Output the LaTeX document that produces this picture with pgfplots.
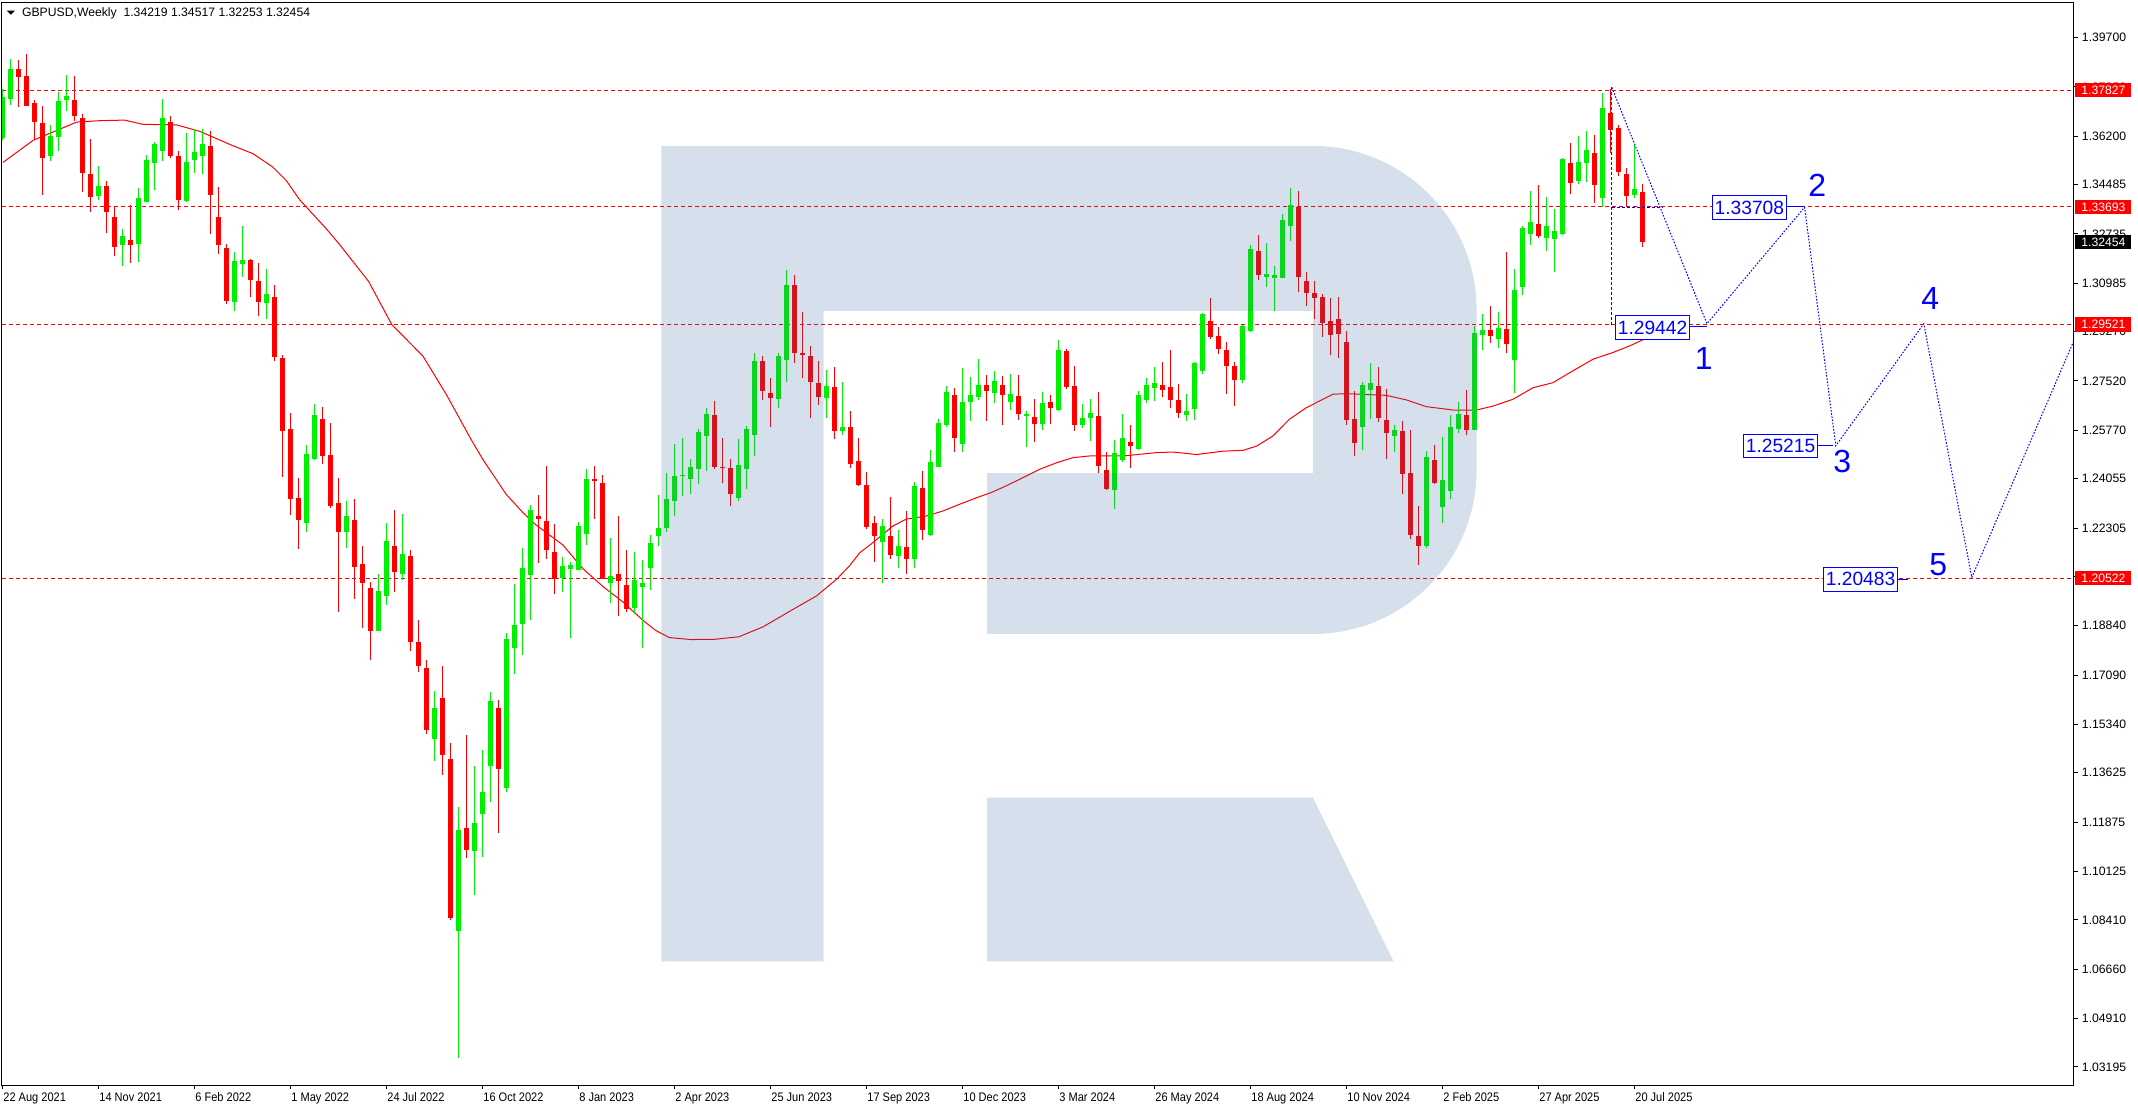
\documentclass[border=0pt]{standalone}
\usepackage{pgfplots}
\pgfplotsset{compat=1.18}
\usepackage{pgfplotstable}
\usepackage{fontspec}
\setmainfont{Liberation Sans}
\newfontfamily\datefamily[FakeStretch=0.89]{Liberation Sans}
\newcommand\pricefont{\fontsize{6.1}{7}\selectfont}
\newcommand\datefont{\datefamily\fontsize{6.2}{7}\selectfont}
\definecolor{bull}{RGB}{0,240,0}
\definecolor{bear}{RGB}{255,0,0}
\definecolor{wm}{RGB}{50,100,160}
\definecolor{wblue}{RGB}{0,0,255}

\pgfplotstableread{
w o h l c
0 1.3615 1.3786 1.3606 1.3758
1 1.3752 1.3893 1.3729 1.3857
6 1.3549 1.3658 1.3532 1.3619
7 1.3618 1.3776 1.3567 1.3743
8 1.3748 1.3836 1.3710 1.3761
12 1.3408 1.3513 1.3394 1.3443
15 1.3233 1.3290 1.3159 1.3265
17 1.3237 1.3438 1.3175 1.3400
18 1.3387 1.3552 1.3387 1.3534
19 1.3524 1.3599 1.3429 1.3593
20 1.3569 1.3751 1.3532 1.3684
23 1.3389 1.3630 1.3386 1.3528
24 1.3534 1.3644 1.3489 1.3563
25 1.3549 1.3644 1.3485 1.3594
29 1.3033 1.3211 1.3000 1.3176
30 1.3167 1.3300 1.3121 1.3180
33 1.3029 1.3148 1.2973 1.3059
38 1.2248 1.2526 1.2216 1.2492
39 1.2475 1.2669 1.2472 1.2630
43 1.2215 1.2326 1.2161 1.2272
47 1.1864 1.2067 1.1864 1.2008
48 1.1991 1.2248 1.1958 1.2184
50 1.2069 1.2280 1.2047 1.2138
54 1.1483 1.1654 1.1406 1.1591
57 1.0800 1.1240 1.0351 1.1159
59 1.1086 1.1386 1.0928 1.1184
60 1.1217 1.1445 1.1064 1.1296
61 1.1386 1.1650 1.1259 1.1618
63 1.1309 1.1858 1.1295 1.1838
64 1.1805 1.2033 1.1712 1.1887
65 1.1891 1.2158 1.1779 1.2089
66 1.2064 1.2311 1.1903 1.2294
70 1.2054 1.2126 1.2002 1.2096
71 1.2086 1.2110 1.1842 1.2100
72 1.2080 1.2252 1.2080 1.2238
73 1.2210 1.2440 1.2170 1.2404
76 1.2034 1.2196 1.1963 1.2060
79 1.1946 1.2145 1.1924 1.2047
80 1.2023 1.2118 1.1806 1.2036
81 1.2088 1.2204 1.2011 1.2177
82 1.2203 1.2347 1.2167 1.2230
83 1.2229 1.2425 1.2217 1.2333
84 1.2325 1.2528 1.2273 1.2414
85 1.2414 1.2549 1.2344 1.2418
86 1.2405 1.2474 1.2350 1.2446
87 1.2440 1.2583 1.2386 1.2570
88 1.2557 1.2655 1.2433 1.2634
92 1.2337 1.2545 1.2327 1.2453
93 1.2440 1.2593 1.2368 1.2581
94 1.2561 1.2850 1.2486 1.2822
97 1.2688 1.2850 1.2656 1.2840
98 1.2827 1.3144 1.2749 1.3091
103 1.2692 1.2790 1.2619 1.2733
105 1.2575 1.2747 1.2561 1.2588
110 1.2181 1.2262 1.2037 1.2237
112 1.2132 1.2223 1.2089 1.2166
114 1.2121 1.2393 1.2089 1.2379
116 1.2206 1.2506 1.2202 1.2464
117 1.2447 1.2616 1.2447 1.2602
118 1.2596 1.2733 1.2589 1.2712
120 1.2529 1.2797 1.2500 1.2676
121 1.2678 1.2765 1.2610 1.2701
122 1.2695 1.2829 1.2685 1.2737
124 1.2710 1.2786 1.2674 1.2751
126 1.2678 1.2776 1.2649 1.2705
128 1.2626 1.2645 1.2518 1.2634
130 1.2598 1.2712 1.2578 1.2673
132 1.2649 1.2896 1.2646 1.2861
135 1.2596 1.2669 1.2585 1.2620
136 1.2621 1.2687 1.2539 1.2637
139 1.2366 1.2542 1.2298 1.2496
140 1.2472 1.2634 1.2466 1.2549
142 1.2511 1.2715 1.2507 1.2701
143 1.2685 1.2761 1.2673 1.2737
144 1.2726 1.2800 1.2680 1.2744
148 1.2631 1.2705 1.2610 1.2644
149 1.2653 1.2818 1.2614 1.2815
150 1.2787 1.2992 1.2777 1.2988
155 1.2756 1.2949 1.2745 1.2946
156 1.2929 1.3233 1.2926 1.3219
158 1.3121 1.3240 1.3085 1.3130
159 1.3117 1.3159 1.3000 1.3127
160 1.3117 1.3343 1.3117 1.3322
161 1.3302 1.3435 1.3248 1.3375
170 1.2589 1.2750 1.2507 1.2737
171 1.2720 1.2815 1.2617 1.2744
174 1.2557 1.2595 1.2500 1.2577
178 1.2167 1.2504 1.2160 1.2484
180 1.2305 1.2552 1.2248 1.2400
181 1.2362 1.2631 1.2334 1.2588
182 1.2581 1.2679 1.2566 1.2634
184 1.2578 1.2946 1.2578 1.2923
185 1.2915 1.2988 1.2861 1.2932
187 1.2901 1.2996 1.2868 1.2939
189 1.2826 1.3148 1.2709 1.3073
190 1.3085 1.3300 1.3057 1.3293
191 1.3273 1.3425 1.3233 1.3315
193 1.3259 1.3404 1.3213 1.3300
194 1.3256 1.3361 1.3139 1.3283
195 1.3272 1.3542 1.3269 1.3538
197 1.3460 1.3620 1.3451 1.3527
198 1.3524 1.3637 1.3456 1.3570
200 1.3401 1.3772 1.3370 1.3719
204 1.3412 1.3590 1.3401 1.3432
}\bulltab

\pgfplotstableread{
w o h l c
2 1.3857 1.3890 1.3725 1.3831
3 1.3832 1.3913 1.3727 1.3727
4 1.3736 1.3748 1.3605 1.3671
5 1.3666 1.3728 1.3411 1.3543
9 1.3747 1.3832 1.3675 1.3691
10 1.3684 1.3700 1.3423 1.3489
11 1.3485 1.3609 1.3352 1.3405
13 1.3443 1.3460 1.3276 1.3352
14 1.3335 1.3371 1.3195 1.3228
16 1.3251 1.3375 1.3171 1.3233
21 1.3672 1.3690 1.3542 1.3548
22 1.3548 1.3566 1.3358 1.3394
26 1.3586 1.3639 1.3273 1.3411
27 1.3333 1.3439 1.3202 1.3233
28 1.3223 1.3239 1.3025 1.3035
31 1.3180 1.3185 1.3050 1.3110
32 1.3105 1.3170 1.2981 1.3033
34 1.3049 1.3091 1.2822 1.2838
35 1.2833 1.2843 1.2412 1.2574
36 1.2581 1.2640 1.2275 1.2334
37 1.2336 1.2407 1.2156 1.2259
40 1.2616 1.2661 1.2459 1.2486
41 1.2488 1.2602 1.2302 1.2308
42 1.2319 1.2407 1.1933 1.2216
44 1.2259 1.2333 1.1978 1.2093
45 1.2103 1.2167 1.1877 1.2034
46 1.2018 1.2040 1.1761 1.1864
49 1.2167 1.2294 1.2004 1.2073
51 1.2131 1.2154 1.1793 1.1825
52 1.1828 1.1906 1.1719 1.1740
53 1.1735 1.1763 1.1500 1.1514
55 1.1626 1.1742 1.1354 1.1425
56 1.1413 1.1467 1.0841 1.0847
58 1.1166 1.1498 1.1061 1.1090
62 1.1594 1.1620 1.1149 1.1376
67 1.2272 1.2347 1.2108 1.2261
68 1.2255 1.2450 1.2121 1.2154
69 1.2145 1.2245 1.1995 1.2051
74 1.2404 1.2450 1.2264 1.2398
75 1.2389 1.2418 1.2050 1.2050
77 1.2067 1.2272 1.1917 1.2044
78 1.2028 1.2151 1.1932 1.1943
89 1.2630 1.2680 1.2441 1.2446
90 1.2448 1.2549 1.2389 1.2442
91 1.2442 1.2474 1.2309 1.2350
95 1.2822 1.2840 1.2684 1.2715
96 1.2708 1.2762 1.2589 1.2691
99 1.3091 1.3127 1.2816 1.2851
100 1.2850 1.2996 1.2763 1.2844
101 1.2840 1.2875 1.2621 1.2749
102 1.2744 1.2822 1.2667 1.2695
104 1.2730 1.2801 1.2545 1.2575
106 1.2588 1.2645 1.2444 1.2458
107 1.2467 1.2549 1.2380 1.2382
108 1.2382 1.2428 1.2227 1.2234
109 1.2247 1.2272 1.2110 1.2202
111 1.2201 1.2340 1.2121 1.2135
113 1.2162 1.2290 1.2068 1.2121
115 1.2372 1.2432 1.2188 1.2224
119 1.2701 1.2726 1.2500 1.2550
123 1.2737 1.2772 1.2610 1.2715
125 1.2737 1.2769 1.2595 1.2702
127 1.2698 1.2772 1.2614 1.2635
129 1.2623 1.2687 1.2536 1.2600
131 1.2676 1.2701 1.2600 1.2656
133 1.2857 1.2864 1.2723 1.2730
134 1.2733 1.2804 1.2575 1.2596
137 1.2627 1.2712 1.2426 1.2451
138 1.2435 1.2499 1.2366 1.2369
141 1.2535 1.2595 1.2444 1.2520
145 1.2737 1.2818 1.2694 1.2720
146 1.2730 1.2861 1.2655 1.2685
147 1.2683 1.2740 1.2621 1.2639
151 1.2964 1.3045 1.2901 1.2908
152 1.2910 1.2942 1.2848 1.2866
153 1.2861 1.2889 1.2705 1.2805
154 1.2804 1.2818 1.2663 1.2756
157 1.3212 1.3269 1.3110 1.3128
162 1.3369 1.3425 1.3068 1.3121
163 1.3105 1.3137 1.3018 1.3064
164 1.3063 1.3105 1.2972 1.3046
165 1.3049 1.3059 1.2908 1.2958
166 1.2964 1.3046 1.2844 1.2915
167 1.2971 1.3049 1.2835 1.2918
168 1.2889 1.2928 1.2597 1.2614
169 1.2616 1.2715 1.2486 1.2532
172 1.2733 1.2801 1.2607 1.2621
173 1.2613 1.2722 1.2475 1.2568
175 1.2574 1.2610 1.2351 1.2422
176 1.2425 1.2577 1.2192 1.2206
177 1.2201 1.2308 1.2100 1.2167
179 1.2471 1.2524 1.2386 1.2390
183 1.2630 1.2719 1.2560 1.2578
186 1.2932 1.3017 1.2886 1.2912
188 1.2935 1.3208 1.2851 1.2882
192 1.3308 1.3446 1.3258 1.3266
196 1.3524 1.3595 1.3414 1.3455
199 1.3559 1.3623 1.3383 1.3447
201 1.3701 1.3788 1.3562 1.3642
202 1.3648 1.3659 1.3479 1.3493
203 1.3485 1.3506 1.3370 1.3408
205 1.34219 1.34517 1.32253 1.32454
}\beartab

\begin{document}
\begin{tikzpicture}
\path[use as bounding box] (-1pt,-12.5pt) rectangle (1068pt,542.5pt);
\begin{axis}[
  at={(0,0)}, anchor=south west,
  width=1036pt, height=541pt, scale only axis,
  xmin=-0.125, xmax=258.875, ymin=1.02554, ymax=1.40923,
  axis line style={line width=0.5pt, black},
  tick align=outside, xtick pos=bottom, ytick pos=right, yticklabel pos=right,
  major tick length=2pt,
  tick style={line width=0.5pt, black},
  xtick={0,12,...,204},
  xticklabels={22 Aug 2021,14 Nov 2021,6 Feb 2022,1 May 2022,24 Jul 2022,16 Oct 2022,8 Jan 2023,2 Apr 2023,25 Jun 2023,17 Sep 2023,10 Dec 2023,3 Mar 2024,26 May 2024,18 Aug 2024,10 Nov 2024,2 Feb 2025,27 Apr 2025,20 Jul 2025},
  ytick={1.39700,1.37950,1.36200,1.34485,1.32735,1.30985,1.29270,1.27520,1.25770,1.24055,1.22305,1.20590,1.18840,1.17090,1.15340,1.13625,1.11875,1.10125,1.08410,1.06660,1.04910,1.03195},
  yticklabels={1.39700,1.37950,1.36200,1.34485,1.32735,1.30985,1.29270,1.27520,1.25770,1.24055,1.22305,1.20590,1.18840,1.17090,1.15340,1.13625,1.11875,1.10125,1.08410,1.06660,1.04910,1.03195},
  xticklabel style={anchor=north west, inner sep=0pt, font=\datefont, yshift=-1.8pt},
  yticklabel style={anchor=west, inner sep=0pt, font=\pricefont, xshift=1.8pt},
  clip mode=individual,
  candle/.style={only marks, mark=none, mark size=0pt, mark options={draw=none, fill=none}},
]
% horizontal levels
\addplot[bear, line width=0.5pt, dash pattern=on 2pt off 1.5pt] coordinates {(-1,1.37827) (260,1.37827)};
\addplot[bear, line width=0.5pt, dash pattern=on 2pt off 1.5pt] coordinates {(-1,1.33693) (260,1.33693)};
\addplot[bear, line width=0.5pt, dash pattern=on 2pt off 1.5pt] coordinates {(-1,1.29521) (260,1.29521)};
\addplot[bear, line width=0.5pt, dash pattern=on 2pt off 1.5pt] coordinates {(-1,1.20522) (260,1.20522)};
% moving average
\addplot[bear, line width=0.5pt] coordinates {(0,1.3527) (3.75,1.3605) (9.2,1.3670) (12.1,1.3675) (15.2,1.3677) (17.5,1.3662) (21.7,1.3660) (24.6,1.3637) (28.75,1.3586) (31.25,1.3558) (33.75,1.3510) (35.4,1.3463) (37.1,1.3394) (38.75,1.3343) (40.4,1.3292) (42.1,1.3235) (45.7,1.3105) (48.6,1.2952) (52.5,1.2840) (55.5,1.2700) (58.5,1.2545) (60,1.2473) (62.9,1.2350) (65,1.2285) (66.6,1.2242) (70,1.2170) (72.5,1.2086) (75,1.2023) (77.5,1.1968) (80,1.1903) (81.6,1.1867) (83.3,1.1842) (86,1.1835) (89,1.1836) (92,1.1845) (95,1.1880) (98.75,1.1942) (101.7,1.1990) (104.2,1.2049) (105.8,1.2096) (107.1,1.2143) (108.75,1.2179) (111.25,1.2238) (112.9,1.2262) (115.4,1.2273) (117.5,1.2291) (119.6,1.2315) (121.7,1.2338) (123.5,1.2356) (125.4,1.2380) (127.5,1.2409) (129.6,1.2439) (131.7,1.2462) (133.75,1.2480) (135.8,1.2486) (140,1.2486) (142.1,1.2492) (144.2,1.2498) (146.25,1.2500) (149.2,1.2491) (152.5,1.2503) (155,1.2506) (156.7,1.2521) (158.75,1.2557) (160.8,1.2616) (162.9,1.2657) (165,1.2687) (166.25,1.2705) (167.9,1.2707) (172.9,1.2701) (175.4,1.2685) (177.9,1.2661) (181.25,1.2649) (184.2,1.2649) (186.25,1.2663) (188.75,1.2687) (191.25,1.2728) (193.75,1.2746) (196.25,1.2788) (198.75,1.2829) (201.25,1.2853) (203.3,1.2876) (205,1.2898)};
% wicks
\addplot[candle, error bars/.cd, y dir=plus, y explicit, error mark=none, error bar style={line width=0.5pt, draw=bull}]
  table[x=w, y=l, y error plus expr={\thisrow{h}-\thisrow{l}}] {\bulltab};
\addplot[candle, error bars/.cd, y dir=plus, y explicit, error mark=none, error bar style={line width=0.5pt, draw=bear}]
  table[x=w, y=l, y error plus expr={\thisrow{h}-\thisrow{l}}] {\beartab};
% bodies
\addplot[candle, error bars/.cd, y dir=plus, y explicit, error mark=none, error bar style={line width=2.5pt, draw=bull}]
  table[x=w, y=o, y error plus expr={max(\thisrow{c}-\thisrow{o},0.0004)}] {\bulltab};
\addplot[candle, error bars/.cd, y dir=plus, y explicit, error mark=none, error bar style={line width=2.5pt, draw=bear}]
  table[x=w, y=c, y error plus expr={max(\thisrow{o}-\thisrow{c},0.0004)}] {\beartab};
% projection
\addplot[wblue, line width=0.5pt, dash pattern=on 1.5pt off 1pt] coordinates {(201.1,1.3793) (201.1,1.2944)};
\addplot[wblue, line width=0.5pt, dash pattern=on 1.5pt off 1pt] coordinates {(201.1,1.3366) (207.4,1.3366)};
\addplot[wblue, line width=0.5pt, dash pattern=on 0.8pt off 0.8pt] coordinates {(201.1,1.3793) (213,1.2955) (225.2,1.3368) (229.1,1.2522) (240.1,1.2955) (246.1,1.2055) (260,1.2970)};
\addplot[wblue, line width=0.5pt] coordinates {(210.9,1.2944) (213,1.2944)};
\addplot[wblue, line width=0.5pt] coordinates {(222.9,1.33708) (225.1,1.33708)};
\addplot[wblue, line width=0.5pt] coordinates {(226.8,1.25215) (228.75,1.25215)};
\addplot[wblue, line width=0.5pt] coordinates {(236.8,1.20483) (238.1,1.20483)};
\node[draw=wblue, fill=white, text=wblue, line width=0.5pt, inner sep=0pt, minimum width=37.2pt, minimum height=11.8pt, font=\fontsize{9.6}{10}\selectfont] at (axis cs:206.2,1.2941) {1.29442};
\node[draw=wblue, fill=white, text=wblue, line width=0.5pt, inner sep=0pt, minimum width=37.2pt, minimum height=11.8pt, font=\fontsize{9.6}{10}\selectfont] at (axis cs:218.3,1.3367) {1.33708};
\node[draw=wblue, fill=white, text=wblue, line width=0.5pt, inner sep=0pt, minimum width=37.2pt, minimum height=11.8pt, font=\fontsize{9.6}{10}\selectfont] at (axis cs:222.2,1.2521) {1.25215};
\node[draw=wblue, fill=white, text=wblue, line width=0.5pt, inner sep=0pt, minimum width=37.2pt, minimum height=11.8pt, font=\fontsize{9.6}{10}\selectfont] at (axis cs:232.2,1.2049) {1.20483};
\node[text=wblue, inner sep=0pt, font=\fontsize{16}{16}\selectfont] at (axis cs:212.6,1.2831) {1};
\node[text=wblue, inner sep=0pt, font=\fontsize{16}{16}\selectfont] at (axis cs:226.8,1.3447) {2};
\node[text=wblue, inner sep=0pt, font=\fontsize{16}{16}\selectfont] at (axis cs:229.9,1.2468) {3};
\node[text=wblue, inner sep=0pt, font=\fontsize{16}{16}\selectfont] at (axis cs:240.9,1.3044) {4};
\node[text=wblue, inner sep=0pt, font=\fontsize{16}{16}\selectfont] at (axis cs:241.9,1.2100) {5};
% price labels on the right scale
\node[anchor=west, xshift=0.5pt, fill=bear, text=white, inner sep=0pt, minimum width=28pt, minimum height=7.1pt, font=\pricefont] at (axis cs:258.875,1.37827) {1.37827};
\node[anchor=west, xshift=0.5pt, fill=bear, text=white, inner sep=0pt, minimum width=28pt, minimum height=7.1pt, font=\pricefont] at (axis cs:258.875,1.33693) {1.33693};
\node[anchor=west, xshift=0.5pt, fill=black, text=white, inner sep=0pt, minimum width=28pt, minimum height=7.1pt, font=\pricefont] at (axis cs:258.875,1.32454) {1.32454};
\node[anchor=west, xshift=0.5pt, fill=bear, text=white, inner sep=0pt, minimum width=28pt, minimum height=7.1pt, font=\pricefont] at (axis cs:258.875,1.29521) {1.29521};
\node[anchor=west, xshift=0.5pt, fill=bear, text=white, inner sep=0pt, minimum width=28pt, minimum height=7.1pt, font=\pricefont] at (axis cs:258.875,1.20522) {1.20522};
\end{axis}
% watermark logo (semi-transparent overlay)
\begin{scope}[x=0.5pt,y=-0.5pt,shift={(-1pt,542.5pt)}]
\fill[wm, fill opacity=0.2] (661.3,145.9) -- (1313,145.9) arc[start angle=-90,end angle=0,radius=163.6] -- (1476.6,470.4) arc[start angle=0,end angle=90,radius=163.6] -- (987.2,634) -- (987.2,473.1) -- (1313,473.1) -- (1313,310.9) -- (823.6,310.9) -- (823.6,961.3) -- (661.3,961.3) -- cycle;
\fill[wm, fill opacity=0.2] (987.2,797.6) -- (1313,797.6) -- (1393.5,961.3) -- (987.2,961.3) -- cycle;
\end{scope}
% title
\fill[black] (2.35pt,537.15pt) -- (6.5pt,537.15pt) -- (4.43pt,535.15pt) -- cycle;
\node[anchor=base west, inner sep=0pt, font=\pricefont] at (9.85pt,534.15pt) {GBPUSD,Weekly\ \ 1.34219 1.34517 1.32253 1.32454};
\end{tikzpicture}
\end{document}
